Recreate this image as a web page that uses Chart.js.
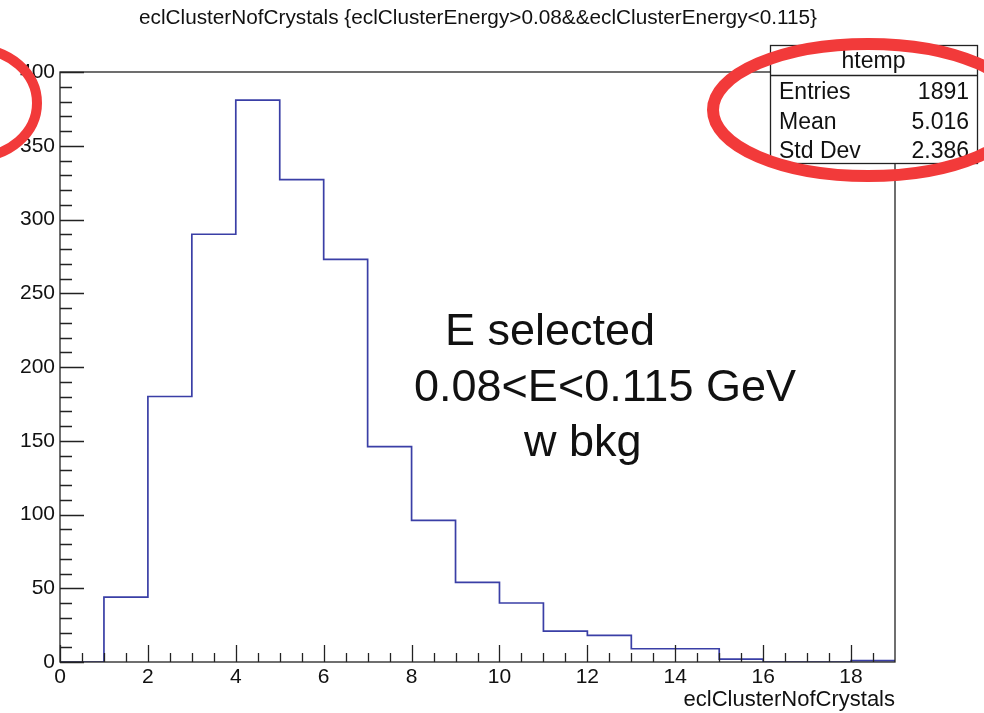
<!DOCTYPE html>
<html>
<head>
<meta charset="utf-8">
<title>eclClusterNofCrystals</title>
<script src="https://cdn.jsdelivr.net/npm/chart.js@4.4.1/dist/chart.umd.min.js"></script>
<style>
  html, body { margin: 0; padding: 0; background: #fff; }
  #wrap { width: 984px; height: 713px; }
</style>
</head>
<body>
<div id="wrap"><canvas id="hist" width="984" height="713"></canvas></div>
<script>
// bin edges of the histogram (0..19) and the count in each bin [edge, edge+1)
const binEdges = [0, 1, 2, 3, 4, 5, 6, 7, 8, 9, 10, 11, 12, 13, 14, 15, 16, 17, 18, 19];
const counts = [0, 44, 180, 290, 381, 327, 273, 146, 96, 54, 40, 21, 18, 9, 9, 2, 0, 0, 1];

const histTitle = 'eclClusterNofCrystals {eclClusterEnergy>0.08&&eclClusterEnergy<0.115}';
const xTitle = 'eclClusterNofCrystals';
const statsName = 'htemp';
const statsLabels = ['Entries', 'Mean', 'Std Dev'];
const statsValues = ['1891', '5.016', '2.386'];
const noteLines = ['E selected', '0.08<E<0.115 GeV', 'w bkg'];

const FONT = "'Liberation Sans', Arial, Helvetica, sans-serif";

// step points: point i sits on the left edge of bin i; the last one closes the final bin
const points = binEdges.map((x, i) => ({ x: x, y: counts[Math.min(i, counts.length - 1)] }));

// white background
const bgPlugin = {
  id: 'bg',
  beforeDraw(chart) {
    const ctx = chart.ctx;
    ctx.save();
    ctx.fillStyle = '#fff';
    ctx.fillRect(0, 0, chart.width, chart.height);
    ctx.restore();
  }
};

// ROOT style frame with inward ticks
const framePlugin = {
  id: 'frame',
  afterDatasetsDraw(chart) {
    const ctx = chart.ctx;
    const a = chart.chartArea;
    const xs = chart.scales.x;
    const ys = chart.scales.y;
    ctx.save();
    ctx.strokeStyle = '#222';
    ctx.lineWidth = 1.3;
    ctx.strokeRect(a.left, a.top, a.right - a.left, a.bottom - a.top);

    ctx.beginPath();
    for (let v = 0; v <= 400; v += 10) {
      const y = Math.round(ys.getPixelForValue(v)) + 0.5;
      const len = v % 50 === 0 ? 24 : 12;
      ctx.moveTo(a.left, y);
      ctx.lineTo(a.left + len, y);
    }
    for (let v = 0; v < 19; v += 0.5) {
      const x = Math.round(xs.getPixelForValue(v)) + 0.5;
      const len = v % 2 === 0 ? 17 : 9;
      ctx.moveTo(x, a.bottom);
      ctx.lineTo(x, a.bottom - len);
    }
    ctx.stroke();
    ctx.restore();
  }
};

// title, stats box, notes and the red marker rings
const overlayPlugin = {
  id: 'overlay',
  afterDraw(chart) {
    const ctx = chart.ctx;
    ctx.save();

    // title, squeezed to a narrow width like the ROOT canvas title
    ctx.fillStyle = '#111';
    ctx.font = "20px 'Liberation Sans Narrow', " + FONT;
    ctx.textBaseline = 'alphabetic';
    const tw = ctx.measureText(histTitle).width;
    const target = 678;
    ctx.save();
    ctx.translate(478, 24);
    ctx.scale(target / tw, 1);
    ctx.textAlign = 'center';
    ctx.fillText(histTitle, 0, 0);
    ctx.restore();

    // stats box
    const bx = 770, by = 45, bw = 207, bh = 118;
    ctx.fillStyle = '#fff';
    ctx.fillRect(bx, by, bw, bh);
    ctx.strokeStyle = '#222';
    ctx.lineWidth = 1.3;
    ctx.strokeRect(bx + 0.5, by + 0.5, bw, bh);
    ctx.beginPath();
    ctx.moveTo(bx, 75.5);
    ctx.lineTo(bx + bw, 75.5);
    ctx.stroke();
    ctx.fillStyle = '#111';
    ctx.font = '23px ' + FONT;
    ctx.textAlign = 'center';
    ctx.fillText(statsName, bx + bw / 2, 68);
    const rows = [99, 129, 158];
    statsLabels.forEach((lab, i) => {
      ctx.textAlign = 'left';
      ctx.fillText(lab, 779, rows[i]);
      ctx.textAlign = 'right';
      ctx.fillText(statsValues[i], 969, rows[i]);
    });

    // notes
    ctx.font = '45px ' + FONT;
    ctx.textAlign = 'left';
    ctx.fillText(noteLines[0], 445, 345);
    ctx.fillText(noteLines[1], 414, 401);
    ctx.fillText(noteLines[2], 524, 456);

    // red rings
    ctx.strokeStyle = '#f23a3a';
    ctx.lineWidth = 12;
    ctx.beginPath();
    ctx.ellipse(868, 110, 155, 66, 0, 0, Math.PI * 2);
    ctx.stroke();
    ctx.lineWidth = 10;
    ctx.beginPath();
    ctx.ellipse(-25, 103, 62, 54, 0, 0, Math.PI * 2);
    ctx.stroke();

    ctx.restore();
  }
};

new Chart(document.getElementById('hist'), {
  type: 'line',
  data: {
    datasets: [{
      data: points,
      stepped: 'before',
      borderColor: '#3a3fa6',
      borderWidth: 1.7,
      pointRadius: 0,
      fill: false
    }]
  },
  options: {
    responsive: false,
    animation: false,
    layout: { padding: { top: 72, right: 89, left: 0, bottom: 0 } },
    plugins: {
      legend: { display: false },
      tooltip: { enabled: false },
      title: { display: false }
    },
    scales: {
      x: {
        type: 'linear',
        min: 0,
        max: 19,
        grid: { display: false, drawTicks: false },
        border: { display: false },
        ticks: {
          stepSize: 2,
          padding: 3,
          color: '#111',
          font: { family: FONT, size: 21 },
          callback: v => (v % 2 === 0 ? String(v) : '')
        },
        title: {
          display: true,
          text: xTitle,
          align: 'end',
          color: '#111',
          font: { family: FONT, size: 22 },
          padding: { top: 0, bottom: 0 }
        },
        afterFit(scale) { scale.height = 51; }
      },
      y: {
        min: 0,
        max: 400,
        grid: { display: false, drawTicks: false },
        border: { display: false },
        ticks: {
          stepSize: 50,
          padding: 5,
          color: '#111',
          font: { family: FONT, size: 21 }
        },
        afterFit(scale) { scale.width = 60; }
      }
    }
  },
  plugins: [bgPlugin, framePlugin, overlayPlugin]
});
</script>
</body>
</html>
